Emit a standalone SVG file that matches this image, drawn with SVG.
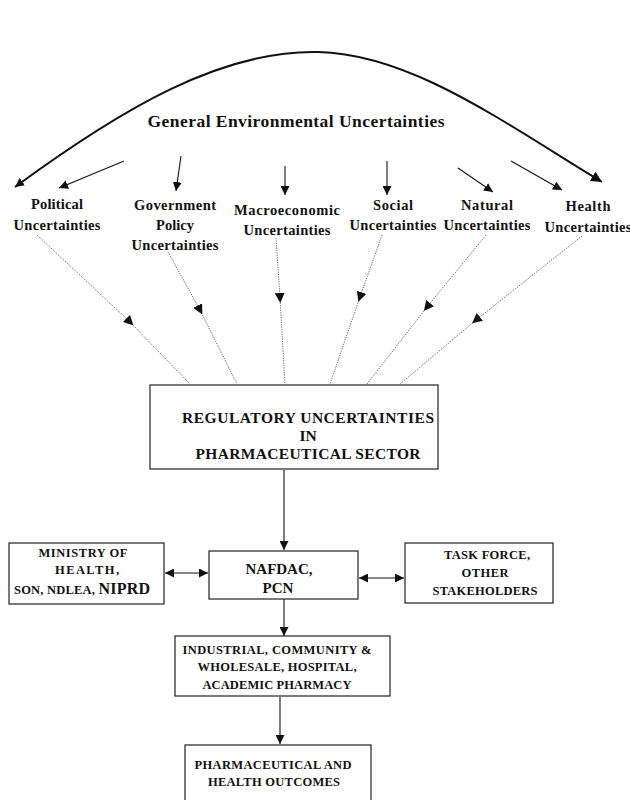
<svg xmlns="http://www.w3.org/2000/svg" width="630" height="800" viewBox="0 0 630 800">
<style>
text{font-family:"Liberation Serif","Times New Roman",serif;font-weight:bold;fill:#111;text-anchor:middle}
.lbl{font-size:14.5px}
.box{fill:#fff;stroke:#222;stroke-width:1.2}
.solid{stroke:#111;stroke-width:1.1;fill:none}
.dot{stroke:#666;stroke-width:1;stroke-dasharray:1.2 1.2;fill:none}
.caps{font-size:15.5px}
.sm{font-size:12.5px}
</style>
<defs>
<marker id="ah" viewBox="0 0 10 10" refX="10" refY="5" markerWidth="9" markerHeight="9" markerUnits="userSpaceOnUse" orient="auto"><path d="M0,0 L10,5 L0,10 z" fill="#111"/></marker>
<marker id="ahs" viewBox="0 0 10 10" refX="10" refY="5" markerWidth="9" markerHeight="9" markerUnits="userSpaceOnUse" orient="auto-start-reverse"><path d="M0,0 L10,5 L0,10 z" fill="#111"/></marker>
<marker id="ahm" viewBox="0 0 10 10" refX="5" refY="5" markerWidth="10" markerHeight="10" markerUnits="userSpaceOnUse" orient="auto"><path d="M0,0 L10,5 L0,10 z" fill="#111"/></marker>
<marker id="ahb" viewBox="0 0 10 10" refX="10" refY="5" markerWidth="11" markerHeight="11" markerUnits="userSpaceOnUse" orient="auto"><path d="M0,0 L10,5 L0,10 z" fill="#111"/></marker>
</defs>

<g id="connectors">
<path class="solid" style="stroke-width:2" d="M15,187 C120,110 220,50 318,52 C410,54 500,120 602,182" marker-start="url(#ahs)" marker-end="url(#ahb)"/>
<line class="solid" x1="124" y1="161" x2="59" y2="188" marker-end="url(#ah)"/>
<line class="solid" x1="181" y1="156" x2="176" y2="191" marker-end="url(#ah)"/>
<line class="solid" x1="285" y1="166" x2="285" y2="195" marker-end="url(#ah)"/>
<line class="solid" x1="387" y1="161" x2="387" y2="195" marker-end="url(#ah)"/>
<line class="solid" x1="458" y1="168" x2="493" y2="192" marker-end="url(#ah)"/>
<line class="solid" x1="511" y1="161" x2="562" y2="190" marker-end="url(#ah)"/>

<polyline class="dot" points="37,235 130,322 190,384" marker-mid="url(#ahm)"/>
<polyline class="dot" points="168,252 200,310 237,384" marker-mid="url(#ahm)"/>
<polyline class="dot" points="276,238 280,298 285,384" marker-mid="url(#ahm)"/>
<polyline class="dot" points="382,235 360,297 330,384" marker-mid="url(#ahm)"/>
<polyline class="dot" points="486,235 427,307 367,384" marker-mid="url(#ahm)"/>
<polyline class="dot" points="582,236 476,320 400,384" marker-mid="url(#ahm)"/>

<line class="solid" x1="284" y1="470" x2="284" y2="550" marker-end="url(#ah)"/>
<line class="solid" x1="165" y1="573" x2="208" y2="573" marker-start="url(#ahs)" marker-end="url(#ah)"/>
<line class="solid" x1="359" y1="578" x2="404" y2="578" marker-start="url(#ahs)" marker-end="url(#ah)"/>
<line class="solid" x1="284" y1="599" x2="284" y2="636" marker-end="url(#ah)"/>
<line class="solid" x1="280" y1="697" x2="280" y2="744" marker-end="url(#ah)"/>
</g>

<g id="title"><text x="296" y="127" style="font-size:17.5px" textLength="297" lengthAdjust="spacing">General Environmental Uncertainties</text></g>

<g id="political" class="lbl"><text x="57" y="209" textLength="52" lengthAdjust="spacing">Political</text><text x="57" y="230" textLength="87" lengthAdjust="spacing">Uncertainties</text></g>
<g id="government" class="lbl"><text x="175" y="210" textLength="82" lengthAdjust="spacing">Government</text><text x="175" y="230">Policy</text><text x="175" y="250" textLength="87" lengthAdjust="spacing">Uncertainties</text></g>
<g id="macroeconomic" class="lbl"><text x="287" y="215" textLength="106" lengthAdjust="spacing">Macroeconomic</text><text x="287" y="235" textLength="87" lengthAdjust="spacing">Uncertainties</text></g>
<g id="social" class="lbl"><text x="393" y="210" textLength="40" lengthAdjust="spacing">Social</text><text x="393" y="230" textLength="87" lengthAdjust="spacing">Uncertainties</text></g>
<g id="natural" class="lbl"><text x="487" y="210" textLength="52" lengthAdjust="spacing">Natural</text><text x="487" y="230" textLength="87" lengthAdjust="spacing">Uncertainties</text></g>
<g id="health" class="lbl"><text x="588" y="211" textLength="45" lengthAdjust="spacing">Health</text><text x="588" y="232" textLength="87" lengthAdjust="spacing">Uncertainties</text></g>

<g id="regulatory">
<rect class="box" x="150" y="385" width="288" height="84"/>
<text class="caps" x="308" y="423" textLength="252" lengthAdjust="spacing">REGULATORY UNCERTAINTIES</text>
<text class="caps" x="308" y="441">IN</text>
<text class="caps" x="308" y="459" textLength="225" lengthAdjust="spacing">PHARMACEUTICAL SECTOR</text>
</g>

<g id="ministry">
<rect class="box" x="9" y="543" width="155" height="61"/>
<text class="sm" x="83" y="557" textLength="89" lengthAdjust="spacing">MINISTRY  OF</text>
<text class="sm" x="87" y="574" textLength="64" lengthAdjust="spacing">HEALTH,</text>
<text class="sm" x="82" y="594" textLength="136" lengthAdjust="spacing">SON, NDLEA, <tspan style="font-size:16px">NIPRD</tspan></text>
</g>

<g id="nafdac">
<rect class="box" x="209" y="551" width="149" height="48"/>
<text x="279" y="574" style="font-size:15px" textLength="67" lengthAdjust="spacing">NAFDAC,</text>
<text x="278" y="593" style="font-size:15px">PCN</text>
</g>

<g id="taskforce">
<rect class="box" x="405" y="543" width="148" height="60"/>
<text class="sm" x="487" y="559" textLength="86" lengthAdjust="spacing">TASK  FORCE,</text>
<text class="sm" x="485" y="577" textLength="47" lengthAdjust="spacing">OTHER</text>
<text class="sm" x="485" y="595" textLength="105" lengthAdjust="spacing">STAKEHOLDERS</text>
</g>

<g id="industrial">
<rect class="box" x="175" y="636" width="215" height="60"/>
<text class="sm" x="277" y="654" textLength="189" lengthAdjust="spacing">INDUSTRIAL,  COMMUNITY  &amp;</text>
<text class="sm" x="277" y="671" textLength="159" lengthAdjust="spacing">WHOLESALE, HOSPITAL,</text>
<text class="sm" x="277" y="689" textLength="149" lengthAdjust="spacing">ACADEMIC  PHARMACY</text>
</g>

<g id="outcomes">
<rect class="box" x="185" y="745" width="186" height="60"/>
<text class="sm" x="273" y="769" textLength="157" lengthAdjust="spacing">PHARMACEUTICAL  AND</text>
<text class="sm" x="274" y="786" textLength="132" lengthAdjust="spacing">HEALTH OUTCOMES</text>
</g>
</svg>
